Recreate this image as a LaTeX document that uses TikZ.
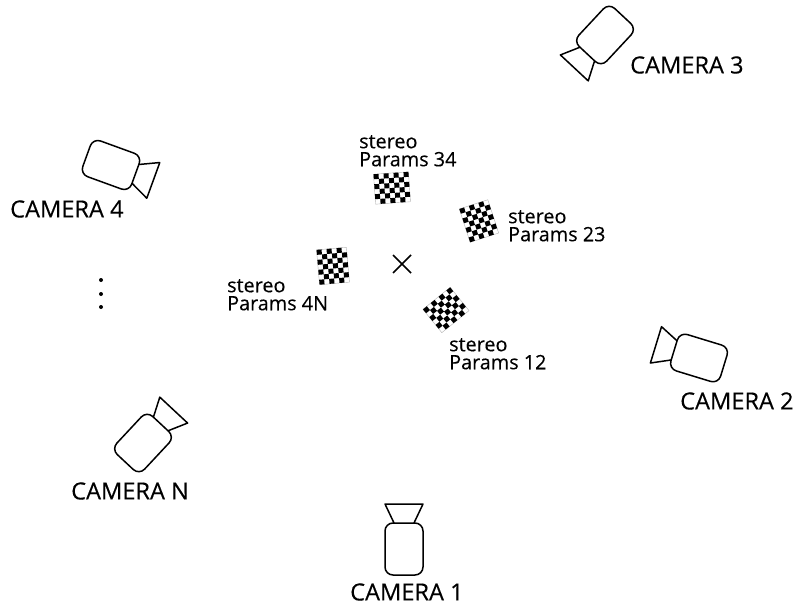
\documentclass[tikz,border=0pt]{standalone}
\usepackage{fontspec}
\usetikzlibrary{calc}
\setmainfont{Open Sans}[FakeBold=0.3]
\tikzset{
  x=1pt,y=-1pt,
  lbl/.style={inner sep=0pt,anchor=west,font=\fontsize{23.6}{23.6}\selectfont,text=black},
  stereo/.style={inner sep=0pt,anchor=north west,align=left,font=\fontsize{19.8}{18}\selectfont,text=black},
  cam/.style={line width=1.5pt,line join=round},
  board/.style={fill=black,draw=none},
}
\newcommand{\camera}[4]{%
  \begin{scope}[shift={(#1,#2)},rotate=#3]
    \draw[cam,rounded corners=8pt] (-19,-26) rectangle (19,26);
    \draw[cam] (-10,-26) -- (-19,-45) -- (19,-45) -- (10,-26);
    \node[inner sep=0pt,minimum size=0pt] (#4) at (0,0) {};
  \end{scope}}
% x, y, rotation, name, columns, rows
\newcommand{\checker}[6]{%
  \begin{scope}[shift={(#1,#2)},rotate=#3]
    \node[inner sep=0pt,minimum size=0pt] (#4) at (0,0) {};
    \pgfmathsetmacro{\lastc}{int(#5-1)}
    \pgfmathsetmacro{\lastr}{int(#6-1)}
    \pgfmathsetmacro{\xo}{-2.5*#5}
    \pgfmathsetmacro{\yo}{-2.5*#6}
    \draw[black!30,line width=.4pt] (\xo,\yo) rectangle ++(5*#5,5*#6);
    \foreach \i in {0,...,\lastc}{\foreach \j in {0,...,\lastr}{
      \pgfmathparse{int(mod(\i+\j,2))}
      \ifnum\pgfmathresult=0
        \fill[board] (\xo+5*\i,\yo+5*\j) rectangle ++(5,5);
      \fi}}
  \end{scope}}
\begin{document}
\begin{tikzpicture}
\useasboundingbox (0,0) rectangle (796,605);
\camera{404}{549}{0}{c1}
\camera{699}{358}{73}{c2}
\camera{605}{35}{137}{c3}
\camera{111}{165}{250}{c4}
\camera{143}{443}{-43}{cn}
\checker{392}{188}{4}{b34}{7}{6}
\checker{479}{221}{18}{b23}{6}{7}
\checker{333}{266}{5}{b4n}{6}{7}
\checker{446}{310}{39}{b12}{7}{6}
\node[lbl] (t1) at (350,592) {CAMERA 1};
\node[lbl] (t2) at (680,401) {CAMERA 2};
\node[lbl] (t3) at (630,65) {CAMERA 3};
\node[lbl] (t4) at (10,209) {CAMERA 4};
\node[lbl] (tn) at (71,491) {CAMERA N};
\node[stereo] (s34) at (359,135) {stereo\\Params 34};
\node[stereo] (s23) at (508,210) {stereo\\Params 23};
\node[stereo] (s4n) at (227,279) {stereo\\Params 4N};
\node[stereo] (s12) at (449,338) {stereo\\Params 12};
\coordinate (x) at (402,264);
\draw[line width=1.5pt] ($(x)+(-9,-9)$) -- ($(x)+(9,9)$) ($(x)+(-9,9)$) -- ($(x)+(9,-9)$);
\foreach \y/\n in {280/a,294/b,307/c}{\fill (101,\y) circle (2) coordinate (dot\n);}
\end{tikzpicture}
\end{document}
